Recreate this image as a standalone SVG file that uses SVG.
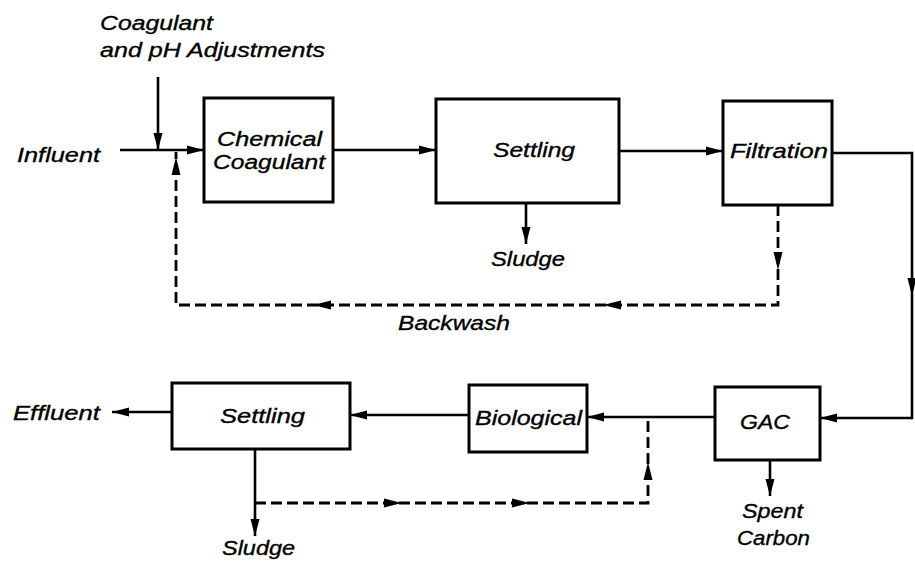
<svg xmlns="http://www.w3.org/2000/svg" width="915" height="564" viewBox="0 0 915 564">
<defs>
<style>
.box{fill:#fff;stroke:#000;stroke-width:3}
.ln{fill:none;stroke:#000;stroke-width:2.6}
.dash{fill:none;stroke:#000;stroke-width:2.8;stroke-dasharray:11 5}
.ah{fill:#000;stroke:none}
text{font-family:"Liberation Sans",Arial,sans-serif;font-style:italic;font-size:21px;fill:#000;stroke:#000;stroke-width:0.35}
.tight{font-size:20px}
</style>
<marker id="arr" markerUnits="userSpaceOnUse" markerWidth="18" markerHeight="10" viewBox="0 0 18 10" refX="17" refY="5" orient="auto">
<path d="M0,0.5 L17,5 L0,9.5 z" fill="#000"/>
</marker>
</defs>
<rect width="915" height="564" fill="#fff"/>
<g id="labels">
<text x="100" y="30" textLength="113" lengthAdjust="spacingAndGlyphs">Coagulant</text>
<text x="100" y="57" textLength="225" lengthAdjust="spacingAndGlyphs">and pH Adjustments</text>
<text x="17" y="162" textLength="83" lengthAdjust="spacingAndGlyphs">Influent</text>
<text x="491" y="266" textLength="74" lengthAdjust="spacingAndGlyphs">Sludge</text>
<text x="398" y="330" textLength="112" lengthAdjust="spacingAndGlyphs">Backwash</text>
<text x="13" y="420" textLength="87" lengthAdjust="spacingAndGlyphs">Effluent</text>
<text x="222" y="555" textLength="73" lengthAdjust="spacingAndGlyphs">Sludge</text>
<text x="742" y="518" textLength="61" lengthAdjust="spacingAndGlyphs">Spent</text>
<text x="737" y="545" textLength="73" lengthAdjust="spacingAndGlyphs">Carbon</text>
</g>
<g id="connectors">
<path class="ln" d="M120,150 H204" marker-end="url(#arr)"/>
<path class="ln" d="M158,77 V150" marker-end="url(#arr)"/>
<path class="ln" d="M333,150 H436" marker-end="url(#arr)"/>
<path class="ln" d="M619,151 H723" marker-end="url(#arr)"/>
<path class="ln" d="M832,153 H912 V418 H820" marker-end="url(#arr)"/>
<path class="ah" d="M907.5,278 L912,296 L916.5,278 z"/>
<path class="ln" d="M526,203 V244" marker-end="url(#arr)"/>
<path class="dash" d="M778,205 V305 H176 V152"/>
<path class="ah" d="M773.5,252 L778,270 L782.5,252 z"/>
<path class="ah" d="M621,300.5 L603,305 L621,309.5 z"/>
<path class="ah" d="M331,300.5 L313,305 L331,309.5 z"/>
<path class="ah" d="M171.5,175 L176,157 L180.5,175 z"/>
<path class="ln" d="M715,417 H587" marker-end="url(#arr)"/>
<path class="ln" d="M469,415 H350" marker-end="url(#arr)"/>
<path class="ln" d="M172,412 H112" marker-end="url(#arr)"/>
<path class="ln" d="M255,449 V536" marker-end="url(#arr)"/>
<path class="dash" d="M255,503 H648 V417"/>
<path class="ah" d="M384,498.5 L402,503 L384,507.5 z"/>
<path class="ah" d="M512,498.5 L530,503 L512,507.5 z"/>
<path class="ah" d="M643.5,480 L648,462 L652.5,480 z"/>
<path class="ln" d="M770,460 V496" marker-end="url(#arr)"/>
</g>
<g id="chemical-coagulant">
<rect class="box" x="204" y="98" width="129" height="104"/>
<text class="tight" x="217" y="146" textLength="105" lengthAdjust="spacingAndGlyphs">Chemical</text>
<text class="tight" x="213" y="169" textLength="112" lengthAdjust="spacingAndGlyphs">Coagulant</text>
</g>
<g id="settling-1">
<rect class="box" x="436" y="99" width="183" height="104"/>
<text x="493" y="157" textLength="82" lengthAdjust="spacingAndGlyphs">Settling</text>
</g>
<g id="filtration">
<rect class="box" x="723" y="101" width="109" height="104"/>
<text x="730" y="158" textLength="98" lengthAdjust="spacingAndGlyphs">Filtration</text>
</g>
<g id="settling-2">
<rect class="box" x="172" y="383" width="178" height="66"/>
<text x="220" y="423" textLength="85" lengthAdjust="spacingAndGlyphs">Settling</text>
</g>
<g id="biological">
<rect class="box" x="469" y="385" width="118" height="67"/>
<text x="475" y="425" textLength="107" lengthAdjust="spacingAndGlyphs">Biological</text>
</g>
<g id="gac">
<rect class="box" x="715" y="387" width="105" height="73"/>
<text x="740" y="429" textLength="50" lengthAdjust="spacingAndGlyphs">GAC</text>
</g>
</svg>
